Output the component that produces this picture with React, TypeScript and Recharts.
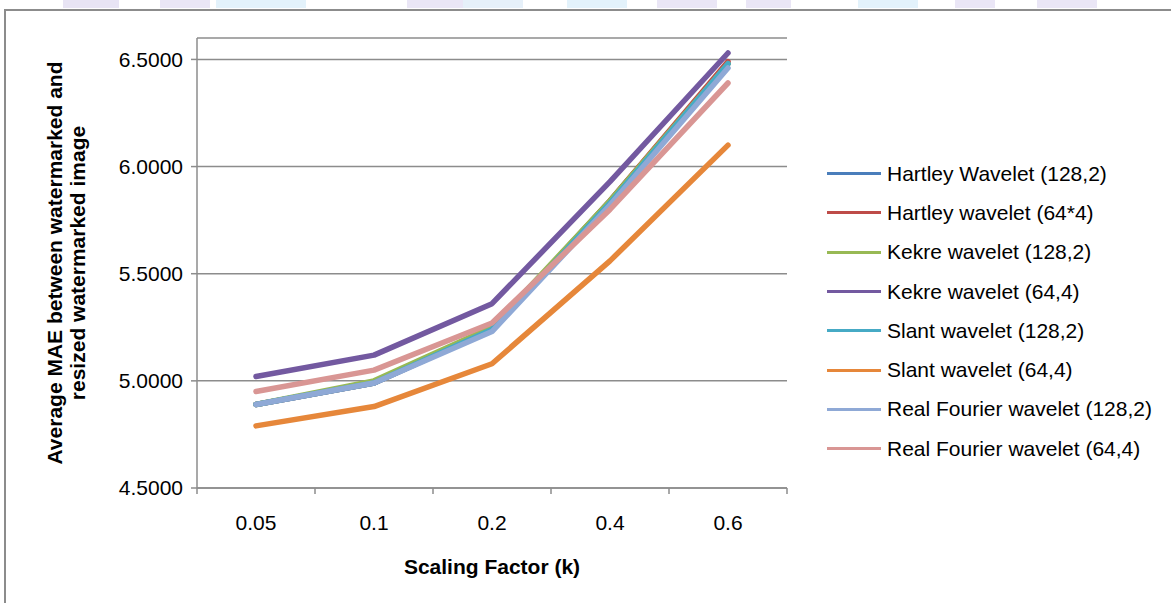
import { CartesianGrid, Line, LineChart, XAxis, YAxis, Label } from "recharts";

const categories = ["0.05", "0.1", "0.2", "0.4", "0.6"];

const hartley128 = [4.89, 4.99, 5.24, 5.84, 6.48];
const hartley64 = [4.89, 4.99, 5.24, 5.84, 6.49];
const kekre128 = [4.89, 5.0, 5.25, 5.84, 6.48];
const kekre64 = [5.02, 5.12, 5.36, 5.93, 6.53];
const slant128 = [4.89, 4.99, 5.24, 5.83, 6.48];
const slant64 = [4.79, 4.88, 5.08, 5.56, 6.1];
const fourier128 = [4.89, 4.99, 5.23, 5.82, 6.46];
const fourier64 = [4.95, 5.05, 5.27, 5.8, 6.39];

const yTicks = [4.5, 5.0, 5.5, 6.0, 6.5];

const series = [
  { key: "s0", name: "Hartley Wavelet (128,2)", values: hartley128, color: "#4A7EBB" },
  { key: "s1", name: "Hartley wavelet (64*4)", values: hartley64, color: "#BE4B48" },
  { key: "s2", name: "Kekre wavelet (128,2)", values: kekre128, color: "#98B954" },
  { key: "s3", name: "Kekre wavelet (64,4)", values: kekre64, color: "#7359A0" },
  { key: "s4", name: "Slant wavelet (128,2)", values: slant128, color: "#46AAC5" },
  { key: "s5", name: "Slant wavelet (64,4)", values: slant64, color: "#E6873A" },
  { key: "s6", name: "Real Fourier wavelet (128,2)", values: fourier128, color: "#8FA9D6" },
  { key: "s7", name: "Real Fourier wavelet (64,4)", values: fourier64, color: "#D99694" },
];

const data = categories.map((cat, i) => {
  const row: Record<string, number | string> = { i, cat };
  series.forEach((s) => (row[s.key] = s.values[i]));
  return row;
});

const xTicks: number[] = [];
for (let k = 0; k <= categories.length * 2; k++) xTicks.push(-0.5 + k * 0.5);

const FONT = "'Liberation Sans', Arial, sans-serif";

function XTick(props: any) {
  const { x, y, payload } = props;
  const v = payload.value;
  if (Number.isInteger(v)) {
    return (
      <text x={x} y={y + 42} textAnchor="middle" fontSize={21} fontFamily={FONT} fill="#000">
        {categories[v]}
      </text>
    );
  }
  return <line x1={x} x2={x} y1={y} y2={y + 6} stroke="#8C8C8C" strokeWidth={1.5} />;
}

function YTitle(props: any) {
  const { viewBox } = props;
  const cy = viewBox.y + viewBox.height / 2;
  const x1 = viewBox.x - 63;
  const x2 = viewBox.x - 40;
  return (
    <g fontFamily={FONT} fontSize={21} fontWeight="bold" fill="#000">
      <text x={x1} y={cy} textAnchor="middle" dominantBaseline="central" transform={`rotate(-90 ${x1} ${cy})`}>
        Average MAE between watermarked and
      </text>
      <text x={x2} y={cy} textAnchor="middle" dominantBaseline="central" transform={`rotate(-90 ${x2} ${cy})`}>
        resized watermarked image
      </text>
    </g>
  );
}

function LegendBox() {
  return (
    <div style={{ position: "absolute", left: 827, top: 154, fontFamily: FONT, fontSize: 21, color: "#000" }}>
      {series.map((s) => (
        <div key={s.key} style={{ display: "flex", alignItems: "center", height: 39.3 }}>
          <div style={{ width: 54, height: 3, background: s.color, marginRight: 6 }} />
          <span style={{ whiteSpace: "nowrap" }}>{s.name}</span>
        </div>
      ))}
    </div>
  );
}

const bandBlocks = [
  { left: 63, width: 56, color: "#E8E4F4" },
  { left: 160, width: 50, color: "#EAE6F6" },
  { left: 216, width: 90, color: "#E3F2FB" },
  { left: 407, width: 56, color: "#EAE6F6" },
  { left: 463, width: 60, color: "#E6F0F9" },
  { left: 567, width: 60, color: "#E3F2FB" },
  { left: 657, width: 60, color: "#EAE6F6" },
  { left: 746, width: 45, color: "#EAE6F6" },
  { left: 858, width: 60, color: "#E3F2FB" },
  { left: 955, width: 40, color: "#EAE6F6" },
  { left: 1037, width: 60, color: "#EAE6F6" },
];

export default function App() {
  return (
    <div style={{ position: "absolute", left: 0, top: 0, width: 1171, height: 603, overflow: "hidden", background: "#fff" }}>
      {bandBlocks.map((b, i) => (
        <div key={i} style={{ position: "absolute", top: 0, left: b.left, width: b.width, height: 8, background: b.color }} />
      ))}
      <div
        style={{
          position: "absolute",
          left: 4,
          top: 9,
          width: 1190,
          height: 620,
          border: "2px solid #8C8C8C",
          boxSizing: "border-box",
        }}
      />
      <div style={{ position: "absolute", left: 0, top: 0 }}>
        <LineChart width={1171} height={603} data={data} margin={{ top: 38, right: 384, left: 117, bottom: 25 }}>
          <CartesianGrid vertical={false} stroke="#8C8C8C" strokeWidth={1.5} />
          <XAxis
            dataKey="i"
            type="number"
            domain={[-0.5, categories.length - 0.5]}
            ticks={xTicks}
            interval={0}
            tick={<XTick />}
            tickLine={false}
            tickSize={0}
            tickMargin={0}
            axisLine={{ stroke: "#8C8C8C", strokeWidth: 1.5 }}
            height={90}
          >
            <Label
              value="Scaling Factor (k)"
              position="insideBottom"
              offset={4}
              style={{ fontFamily: FONT, fontSize: 21, fontWeight: "bold", fill: "#000" }}
            />
          </XAxis>
          <YAxis
            type="number"
            domain={[4.5, 6.6]}
            ticks={yTicks}
            interval={0}
            width={80}
            tickFormatter={(v: number) => v.toFixed(4)}
            tick={{ fontFamily: FONT, fontSize: 21, fill: "#000" }}
            tickSize={6}
            tickMargin={8}
            tickLine={{ stroke: "#8C8C8C", strokeWidth: 1.5 }}
            axisLine={{ stroke: "#8C8C8C", strokeWidth: 1.5 }}
            label={<YTitle />}
          />
          {series.map((s) => (
            <Line
              key={s.key}
              type="linear"
              dataKey={s.key}
              name={s.name}
              stroke={s.color}
              strokeWidth={5.5}
              strokeLinecap="round"
              strokeLinejoin="round"
              dot={false}
              activeDot={false}
              isAnimationActive={false}
            />
          ))}
        </LineChart>
      </div>
      <LegendBox />
    </div>
  );
}
